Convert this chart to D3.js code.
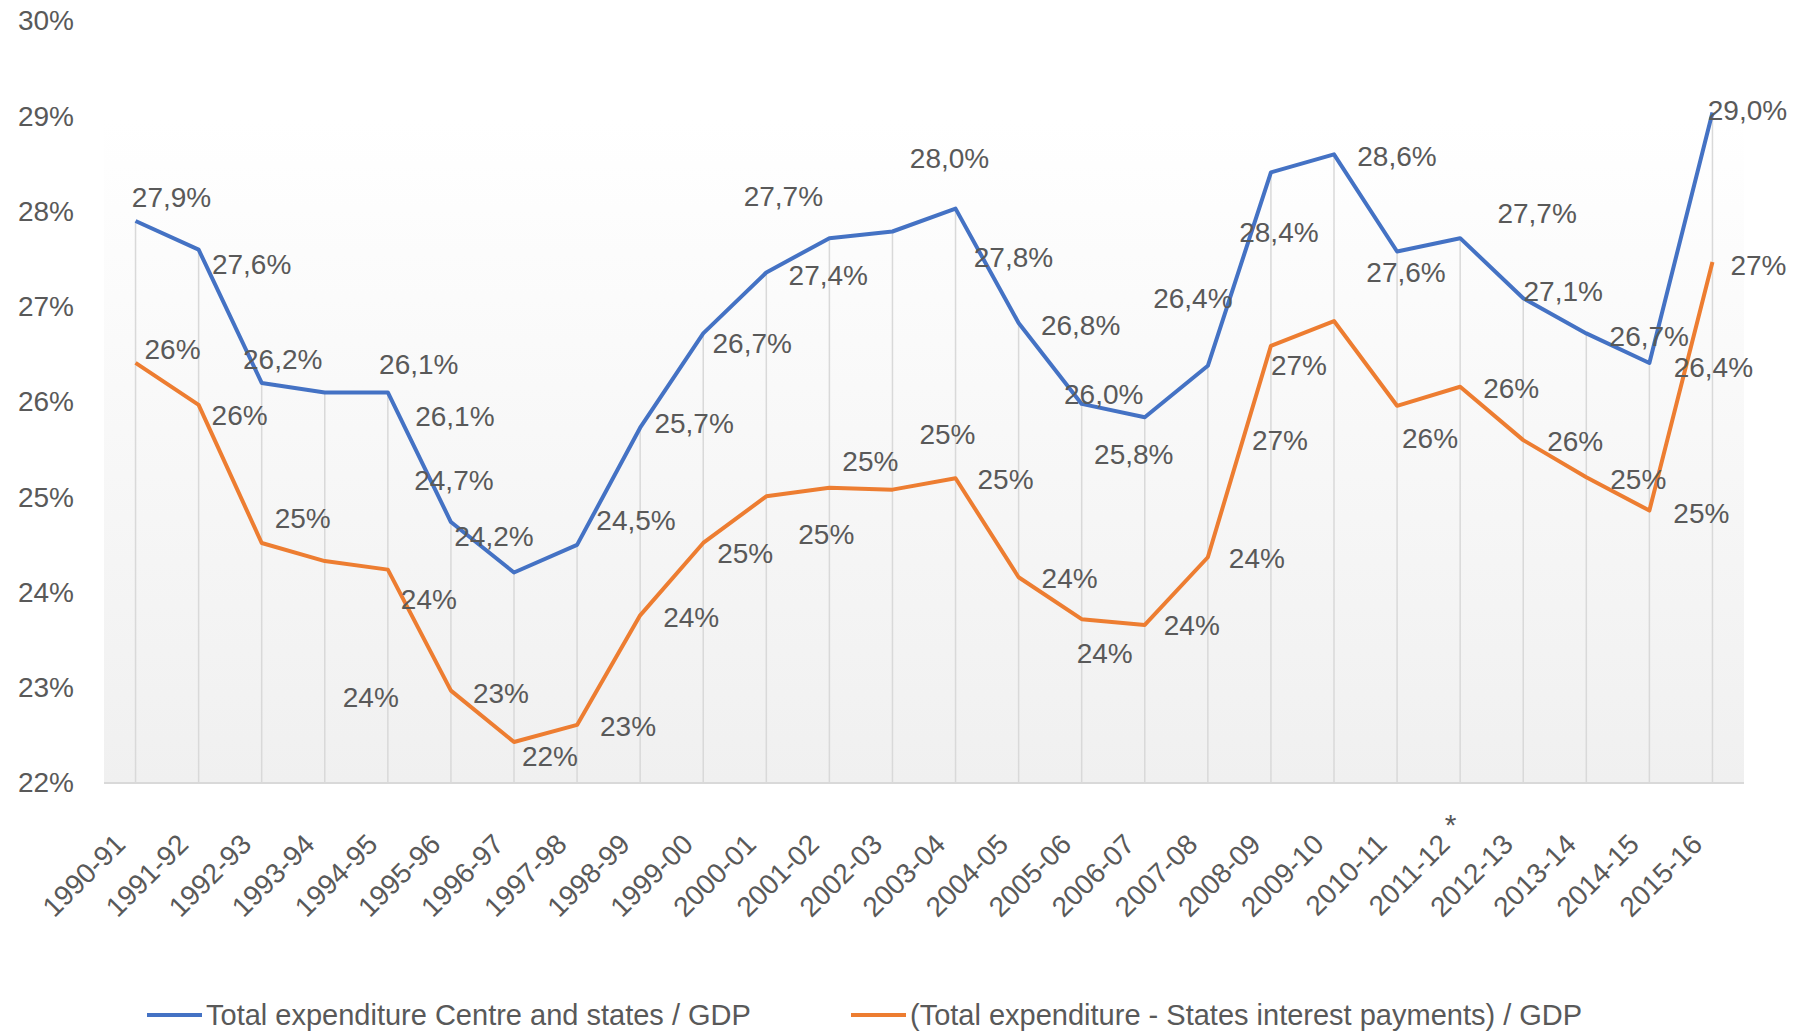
<!DOCTYPE html>
<html>
<head>
<meta charset="utf-8">
<script src="https://cdn.jsdelivr.net/npm/d3@7"></script>
<style>
  body { margin: 0; background: #fff; }
  text { font-family: "Liberation Sans", Arial, sans-serif; fill: #595959; }
</style>
</head>
<body>
<div id="chart"></div>
<script>

const WIDTH = 1799;
const HEIGHT = 1032;

// Plot area.
const PLOT = {'left': 104, 'right': 1744, 'top': 120, 'bottom': 783};

// Data.
var categories = ["1990-91", "1991-92", "1992-93", "1993-94", "1994-95", "1995-96", "1996-97",
                  "1997-98", "1998-99", "1999-00", "2000-01", "2001-02", "2002-03", "2003-04",
                  "2004-05", "2005-06", "2006-07", "2007-08", "2008-09", "2009-10", "2010-11",
                  "2011-12 *", "2012-13", "2013-14", "2014-15", "2015-16"];

var totalExpenditure = [27.9, 27.6, 26.2, 26.1, 26.1, 24.74, 24.21, 24.5, 25.73, 26.72, 27.36, 27.72, 27.79,
                        28.03, 26.83, 25.98, 25.84, 26.38, 28.41, 28.6, 27.58, 27.72, 27.09, 26.72, 26.41, 29.04];

var exInterest = [26.41, 25.97, 24.52, 24.33, 24.24, 22.97, 22.43, 22.61, 23.76, 24.52, 25.01, 25.1, 25.08,
                  25.2, 24.16, 23.72, 23.66, 24.37, 26.59, 26.85, 25.96, 26.16, 25.6, 25.21, 24.86, 27.47];

var yTicks = [22, 23, 24, 25, 26, 27, 28, 29, 30];

var seriesNames = ["Total expenditure Centre and states / GDP",
                   "(Total expenditure - States interest payments) / GDP"];

// Data label offsets from their point, in pixels (labels were moved by hand in the original).
var blueLabelOffsets = [[36,-24],[53,15],[21,-24],[94,-28],[67,24],[3,-42],[-20,-36],[59,-25],[54,-5],
                        [49,10],[62,3],[-46,-42],[121,26],[-6,-50],[62,2],[22,-10],[-11,37],[-15,-68],
                        [8,60],[63,2],[9,21],[77,-25],[40,-7],[63,3],[64,4],[35,-2]];
var orangeLabelOffsets = [[37,-14],[41,10],[41,-25],[46,136],[41,30],[50,3],[36,14],[51,1],[51,2],
                          [42,10],[60,38],[41,-27],[55,-55],[50,1],[51,1],[23,34],[47,0],[49,1],
                          [28,19],[-54,119],[33,32],[51,1],[52,1],[52,2],[52,3],[46,3]];

const BLUE = "#4472C4";
const ORANGE = "#ED7D31";

var svg = d3.select("#chart").append("svg")
            .attr("width", WIDTH)
            .attr("height", HEIGHT);

var x = d3.scalePoint()
          .domain(categories)
          .range([PLOT.left, PLOT.right])
          .padding(0.5);

var y = d3.scaleLinear()
          .domain([22, 30])
          .range([PLOT.bottom, 21]);

// Plot area background.
var grad = svg.append("defs").append("linearGradient")
              .attr("id", "bg")
              .attr("x1", 0).attr("y1", 0).attr("x2", 0).attr("y2", 1);
grad.append("stop").attr("offset", "0%").attr("stop-color", "#ffffff");
grad.append("stop").attr("offset", "100%").attr("stop-color", "#f0f0f0");

svg.append("rect")
   .attr("x", PLOT.left)
   .attr("y", PLOT.top)
   .attr("width", PLOT.right - PLOT.left)
   .attr("height", PLOT.bottom - PLOT.top)
   .attr("fill", "url(#bg)");

// Drop lines.
svg.append("g").selectAll("line")
   .data(categories)
   .enter()
   .append("line")
   .attr("x1", function (d) { return x(d); })
   .attr("x2", function (d) { return x(d); })
   .attr("y1", function (d, i) { return y(Math.max(totalExpenditure[i], exInterest[i])); })
   .attr("y2", PLOT.bottom)
   .attr("stroke", "#d9d9d9")
   .attr("stroke-width", 1.5);

// Y axis.
var yAxis = svg.append("g")
               .attr("transform", "translate(" + PLOT.left + ",0)")
               .call(d3.axisLeft(y).tickValues(yTicks).tickSize(0).tickPadding(30)
                       .tickFormat(function (d) { return d + "%"; }));
yAxis.select(".domain").remove();
yAxis.selectAll("text")
     .attr("font-size", "28px")
     .style("font-family", "'Liberation Sans', Arial, sans-serif")
     .attr("fill", "#595959");

// X axis.
var xAxis = svg.append("g")
               .attr("transform", "translate(0," + PLOT.bottom + ")")
               .call(d3.axisBottom(x).tickSize(0)
                       .tickFormat(function (d) { return d.split(" ")[0]; }));
xAxis.select(".domain")
     .attr("d", "M" + PLOT.left + ",0H" + PLOT.right)
     .attr("stroke", "#d9d9d9")
     .attr("stroke-width", 2);
xAxis.selectAll("text")
     .attr("font-size", "28px")
     .style("font-family", "'Liberation Sans', Arial, sans-serif")
     .attr("fill", "#595959")
     .attr("x", 0)
     .attr("y", 0)
     .attr("dy", "0.35em")
     .attr("text-anchor", "end")
     .attr("transform", "translate(-16,56) rotate(-45)");

// Footnote mark on a category.
xAxis.selectAll(".tick")
     .filter(function (d) { return d.indexOf("*") >= 0; })
     .append("text")
     .attr("x", -10)
     .attr("y", 52)
     .attr("text-anchor", "middle")
     .attr("font-size", "30px")
     .attr("fill", "#595959")
     .text("*");

// Lines.
var line = function (values) {
    return d3.line()
             .x(function (d, i) { return x(categories[i]); })
             .y(function (d) { return y(d); })(values);
};

svg.append("path")
   .attr("d", line(exInterest))
   .attr("fill", "none")
   .attr("stroke", ORANGE)
   .attr("stroke-width", 4)
   .attr("stroke-linejoin", "round");

svg.append("path")
   .attr("d", line(totalExpenditure))
   .attr("fill", "none")
   .attr("stroke", BLUE)
   .attr("stroke-width", 4)
   .attr("stroke-linejoin", "round");

// Data labels.
svg.append("g").selectAll("text")
   .data(exInterest)
   .enter()
   .append("text")
   .attr("x", function (d, i) { return x(categories[i]) + orangeLabelOffsets[i][0]; })
   .attr("y", function (d, i) { return y(d) + orangeLabelOffsets[i][1]; })
   .attr("dy", "0.35em")
   .attr("text-anchor", "middle")
   .attr("font-size", "28px")
   .text(function (d) { return Math.round(d) + "%"; });

svg.append("g").selectAll("text")
   .data(totalExpenditure)
   .enter()
   .append("text")
   .attr("x", function (d, i) { return x(categories[i]) + blueLabelOffsets[i][0]; })
   .attr("y", function (d, i) { return y(d) + blueLabelOffsets[i][1]; })
   .attr("dy", "0.35em")
   .attr("text-anchor", "middle")
   .attr("font-size", "28px")
   .text(function (d) { return d.toFixed(1).replace(".", ",") + "%"; });

// Legend.
var legendX = [147, 851];
var legendColors = [BLUE, ORANGE];
var legend = svg.append("g").selectAll("g")
                .data(seriesNames)
                .enter()
                .append("g")
                .attr("transform", function (d, i) { return "translate(" + legendX[i] + ",1015)"; });

legend.append("line")
      .attr("x1", 0).attr("x2", 55)
      .attr("y1", 0).attr("y2", 0)
      .attr("stroke", function (d, i) { return legendColors[i]; })
      .attr("stroke-width", 4);

legend.append("text")
      .attr("x", 59)
      .attr("dy", "0.35em")
      .attr("font-size", "29px")
      .text(function (d) { return d; });

</script>
</body>
</html>
